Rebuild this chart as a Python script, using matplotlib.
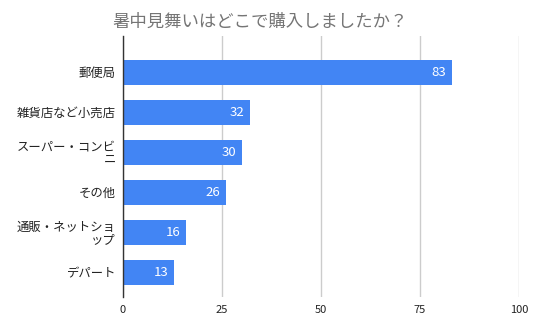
import matplotlib
matplotlib.use("Agg")
import matplotlib.pyplot as plt

plt.rcParams["font.family"] = ["Noto Sans CJK JP", "DejaVu Sans"]

TITLE = "暑中見舞いはどこで購入しましたか？"
places = ["郵便局", "雑貨店など小売店", "スーパー・コンビ\nニ", "その他",
          "通販・ネットショ\nップ", "デパート"]
counts = [83, 32, 30, 26, 16, 13]
xticks = [0, 25, 50, 75, 100]

BLUE = "#4285f4"
GRID = "#cccccc"
INK = "#222222"

fig = plt.figure(figsize=(5.36, 3.31), dpi=100)
ax = fig.add_axes([123 / 536, 1 - 297 / 331, 396 / 536, 261 / 331])

ypos = list(range(len(places)))
bars = ax.barh(ypos, counts, height=0.625, color=BLUE, zorder=3)

for b, v in zip(bars, counts):
    ax.annotate(str(v), (b.get_width(), b.get_y() + b.get_height() / 2),
                xytext=(-4, 0), textcoords="offset points",
                ha="right", va="center", color="white", fontsize=9.5, zorder=4)

ax.set_xlim(0, 100)
ax.set_ylim(5.625, -0.9)
ax.set_xticks(xticks)
ax.set_yticks(ypos)
ax.set_yticklabels(places, fontsize=8.9, color=INK, linespacing=0.95)
ax.tick_params(axis="x", length=0, labelsize=8, labelcolor=INK, pad=6)
ax.tick_params(axis="y", length=0, pad=5)

ax.grid(axis="x", color=GRID, lw=1, zorder=0)
for s in ["top", "right", "bottom"]:
    ax.spines[s].set_visible(False)
ax.spines["left"].set_color("#333333")
ax.spines["left"].set_linewidth(1)
ax.spines["left"].set_zorder(5)

fig.text(260 / 536, 1 - 22 / 331, TITLE, ha="center", va="center",
         fontsize=12.5, color="#757575")

fig.savefig("out.png", dpi=100)
